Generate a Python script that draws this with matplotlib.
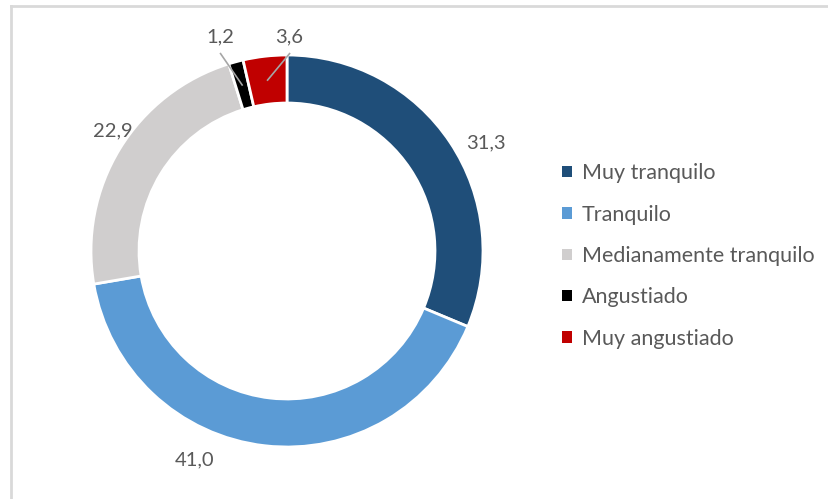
import numpy as np
import matplotlib.pyplot as plt
from matplotlib.patches import Patch
from matplotlib.lines import Line2D

# data
categorias = ['Muy tranquilo', 'Tranquilo', 'Medianamente tranquilo', 'Angustiado', 'Muy angustiado']
valores = [31.3, 41.0, 22.9, 1.2, 3.6]
etiquetas = ['31,3', '41,0', '22,9', '1,2', '3,6']
colores = ['#1F4E79', '#5B9BD5', '#D0CECE', '#000000', '#C00000']

plt.rcParams['font.family'] = ['Lato', 'DejaVu Sans']
txt_color = '#595959'

fig = plt.figure(figsize=(8.29, 4.99), dpi=100)
# axes sized so the ring sits where the reference has it
R_px = 196
span = 1.4
w = 2 * span * R_px
ax = fig.add_axes([(287 - w / 2) / 829, (248 - w / 2) / 499, w / 829, w / 499])

wedges, _ = ax.pie(valores, colors=colores, startangle=90, counterclock=False,
                   radius=1, wedgeprops=dict(width=0.245, edgecolor='white', linewidth=2))
ax.set_xlim(-span, span)
ax.set_ylim(-span, span)
ax.axis('off')

# label layout (text positions in data units)
label_pos = [(1.015, 0.551), (-0.469, -1.066), (-0.888, 0.612), (-0.342, 1.092), (0.010, 1.092)]
for i, (w_, lab) in enumerate(zip(wedges, etiquetas)):
    x, y = label_pos[i]
    ax.text(x, y, lab, ha='center', va='center', fontsize=14.5, color=txt_color)
    if valores[i] < 5:
        ang = np.deg2rad((w_.theta1 + w_.theta2) / 2)
        r_mid = 1 - 0.245 / 2
        ax.plot([r_mid * np.cos(ang), x + 0.003], [r_mid * np.sin(ang), y - 0.085],
                color='#A6A6A6', lw=1.2)

handles = [Patch(facecolor=c, edgecolor='none') for c in colores]
fig.legend(handles, categorias, loc='center left', bbox_to_anchor=(0.655, 0.487),
           frameon=False, fontsize=15.5, labelcolor=txt_color, handlelength=0.45,
           handleheight=0.45, handletextpad=0.45, labelspacing=0.99)

# chart frame (only top and left edges visible in the crop)
fig.add_artist(Line2D([11 / 829, 11 / 829], [0, 1 - 6 / 499], color='#D9D9D9', lw=2))
fig.add_artist(Line2D([11 / 829, 1], [1 - 6 / 499, 1 - 6 / 499], color='#D9D9D9', lw=2))

fig.savefig('out.png', dpi=100)
